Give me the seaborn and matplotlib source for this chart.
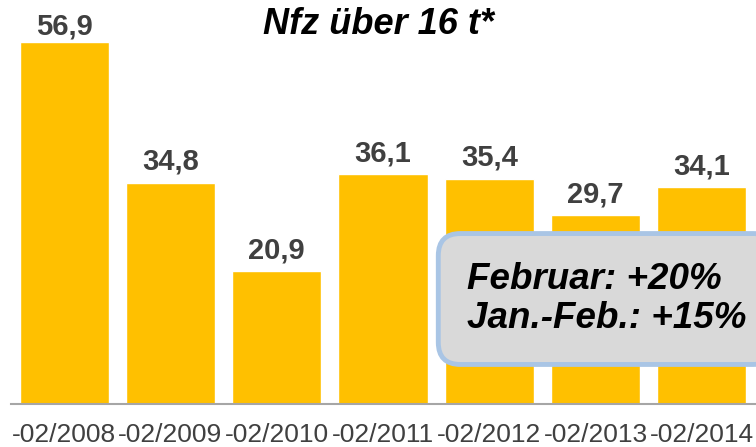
import matplotlib
matplotlib.use("Agg")
import matplotlib.pyplot as plt
import seaborn as sns

periods = ["-02/2008", "-02/2009", "-02/2010", "-02/2011", "-02/2012", "-02/2013", "-02/2014"]
values = [56.9, 34.8, 20.9, 36.1, 35.4, 29.7, 34.1]
labels = ["56,9", "34,8", "20,9", "36,1", "35,4", "29,7", "34,1"]
title = "Nfz über 16 t*"
note = "Februar: +20%\nJan.-Feb.: +15%"

sns.set_style("white")
plt.rcParams["font.family"] = ["Liberation Sans", "DejaVu Sans"]

fig = plt.figure(figsize=(7.56, 4.47), dpi=100)
ax = fig.add_axes([11 / 756, 43 / 447, 1 - 11 / 756, 404 / 447])

sns.barplot(x=periods, y=values, color="#FFC000", saturation=1, width=0.84, ax=ax)

ax.set_ylim(0, 63.5)
ax.set_xlim(-0.5, 6.51)
ax.set_xlabel("")
ax.set_ylabel("")
ax.set_yticks([])
for s in ["top", "right", "left"]:
    ax.spines[s].set_visible(False)
ax.spines["bottom"].set_color("#A6A6A6")
ax.spines["bottom"].set_linewidth(1.5)
ax.tick_params(axis="x", length=0, pad=13.5, labelsize=19, labelcolor="#404040")

# top label gets squeezed under the figure edge like in the original
for i, (v, lab) in enumerate(zip(values, labels)):
    ax.annotate(lab, (i, min(v, 56.0)), xytext=(0, 5), textcoords="offset points",
                ha="center", va="bottom", fontsize=21, fontweight="bold",
                color="#404040")

fig.text(378 / 756, 1 - 24 / 447, title, ha="center", va="center",
         fontsize=26, fontweight="bold", fontstyle="italic", color="black")

fig.text(467 / 756, 1 - 299 / 447, note, ha="left", va="center",
         fontsize=26.5, fontweight="bold", fontstyle="italic", color="black",
         linespacing=1.13,
         bbox=dict(boxstyle="round,pad=0.78,rounding_size=0.6",
                   facecolor="#D9D9D9", edgecolor="#A9C5E5", linewidth=3.5))

fig.savefig("out.png", dpi=100)
